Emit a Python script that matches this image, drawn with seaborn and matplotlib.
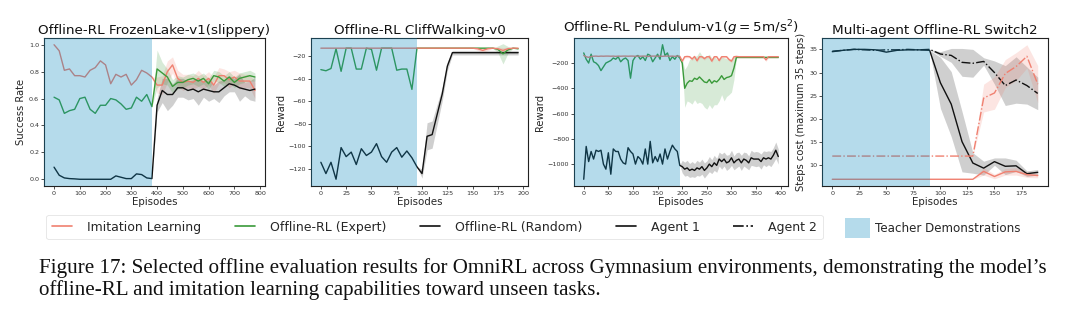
import matplotlib
matplotlib.use("Agg")
import matplotlib.pyplot as plt
import numpy as np
import pandas as pd
import seaborn as sns
from matplotlib.lines import Line2D
from matplotlib.patches import Patch

sns.set_theme(style="ticks")
plt.rcParams['font.family'] = ['DejaVu Sans']

# ---------------- data ----------------
# FrozenLake (slippery)
fl_x = list(range(0, 800, 20))
fl_il = [1.00, 0.955, 0.81, 0.82, 0.77, 0.77, 0.76, 0.81, 0.83, 0.88, 0.85, 0.71, 0.78, 0.76, 0.78, 0.70, 0.74, 0.81, 0.79, 0.76,
         0.70, 0.70, 0.80, 0.85, 0.75, 0.72, 0.73, 0.72, 0.75, 0.72, 0.75, 0.70, 0.77, 0.77, 0.74, 0.76, 0.73, 0.73, 0.73, 0.66]
fl_ex = [0.61, 0.59, 0.49, 0.51, 0.52, 0.60, 0.61, 0.52, 0.49, 0.55, 0.55, 0.60, 0.59, 0.56, 0.52, 0.53, 0.61, 0.58, 0.63, 0.54,
         0.82, 0.79, 0.76, 0.69, 0.72, 0.72, 0.74, 0.75, 0.73, 0.75, 0.71, 0.77, 0.76, 0.73, 0.76, 0.72, 0.75, 0.76, 0.77, 0.76]
fl_rd = [0.09, 0.03, 0.01, 0.005, 0.003, 0.0, 0.0, 0.0, 0.0, 0.0, 0.0, 0.0, 0.025, 0.015, 0.005, 0.005, 0.04, 0.035, 0.01, 0.005,
         0.55, 0.66, 0.63, 0.63, 0.68, 0.68, 0.66, 0.67, 0.65, 0.67, 0.66, 0.65, 0.65, 0.68, 0.71, 0.70, 0.68, 0.67, 0.66, 0.67]
fl_il_sd = [0, 0, 0, 0, 0, 0, 0, 0, 0, 0, 0, 0, 0, 0, 0, 0, 0, 0, 0, 0,
            0.06, 0.07, 0.08, 0.06, 0.06, 0.06, 0.05, 0.05, 0.06, 0.05, 0.05, 0.06, 0.06, 0.05, 0.06, 0.05, 0.06, 0.05, 0.05, 0.06]
fl_ex_sd = [0, 0, 0, 0, 0, 0, 0, 0, 0, 0, 0, 0, 0, 0, 0, 0, 0, 0, 0, 0,
            0.14, 0.08, 0.06, 0.05, 0.05, 0.04, 0.04, 0.04, 0.04, 0.04, 0.04, 0.04, 0.04, 0.04, 0.04, 0.04, 0.04, 0.04, 0.04, 0.03]
fl_rd_sd = [0, 0, 0, 0, 0, 0, 0, 0, 0, 0, 0, 0, 0, 0, 0, 0, 0, 0, 0, 0,
            0.05, 0.09, 0.12, 0.08, 0.07, 0.07, 0.07, 0.07, 0.10, 0.06, 0.08, 0.05, 0.08, 0.06, 0.06, 0.05, 0.10, 0.05, 0.07, 0.09]
fl_teacher_end = 380

# CliffWalking
cw_x = list(range(0, 200, 5))
cw_il = [-13, -13, -13, -13, -13, -13, -13, -13, -13, -13, -13, -13, -13, -13, -13, -13, -13, -13, -13, -13,
         -13, -13, -13, -13, -13, -13, -13, -13, -13, -13, -13, -13.5, -15, -13.5, -13, -13.5, -15, -13.5, -13, -13]
cw_ex = [-32, -33, -31, -13.5, -33.5, -13, -13, -31.5, -31.5, -13, -14, -32.5, -13, -13, -13, -32.5, -31.5, -31.5, -49.5, -13,
         -13, -13, -13, -13, -13, -13, -13, -13, -13, -13, -13, -13, -13, -13, -13, -14, -18, -14.5, -13, -13.5]
cw_rd = [-114, -124, -114, -129, -101, -109, -105, -116, -102, -108, -105, -97.5, -109, -114, -105, -101, -109.5, -104, -110, -118,
         -124, -91, -89.5, -71.5, -53.5, -29, -17, -17, -17, -17, -17, -17, -17, -17, -17, -17, -17, -17, -17, -17]
cw_il_sd = [0, 0, 0, 0, 0, 0, 0, 0, 0, 0, 0, 0, 0, 0, 0, 0, 0, 0, 0, 0,
            0, 0, 0, 0, 0, 0, 0, 0, 0, 0, 0, 1.5, 2, 1.5, 0, 1.5, 2.5, 1.5, 0, 0]
cw_ex_sd = [0, 0, 0, 0, 0, 0, 0, 0, 0, 0, 0, 0, 0, 0, 0, 0, 0, 0, 0, 0,
            0, 0, 0, 0, 0, 0, 0, 0, 0, 0, 0, 0, 0, 0, 0, 3, 9, 3, 0, 0.5]
cw_rd_sd = [0, 0, 0, 0, 0, 0, 0, 0, 0, 0, 0, 0, 0, 0, 0, 0, 0, 0, 0, 0,
            4, 12, 12, 9, 6, 4, 2, 2, 2, 2, 2, 2, 2, 2, 2, 2, 2, 2, 2, 2]
cw_teacher_end = 95

# Pendulum (g = 5)
pd_x = list(range(0, 400, 5))
pd_il = [-140, -150, -155, -148, -146, -145, -147, -145, -146, -145, -145, -146, -145, -147, -145, -146, -145, -145, -146, -145,
         -145, -147, -145, -146, -145, -145, -148, -146, -145, -145, -146, -145, -147, -145, -145, -146, -145, -147, -145, -146,
         -185, -150, -148, -150, -168, -148, -182, -150, -150, -165, -150, -150, -185, -150, -150, -180, -150, -150, -150, -172,
         -185, -150, -148, -150, -150, -150, -150, -150, -150, -150, -150, -150, -150, -150, -175, -150, -150, -150, -150, -150]
pd_ex = [-120, -170, -200, -130, -190, -200, -220, -260, -230, -200, -190, -180, -160, -170, -150, -190, -170, -160, -180, -320,
         -180, -150, -140, -170, -150, -180, -130, -140, -190, -160, -130, -170, -55, -140, -120, -180, -150, -170, -140, -160,
         -200, -400, -360, -340, -345, -320, -330, -310, -330, -350, -355, -330, -360, -340, -350, -330, -300, -330, -315, -310,
         -300, -240, -155, -155, -155, -155, -155, -155, -155, -155, -155, -155, -155, -155, -155, -155, -155, -155, -155, -155]
pd_rd = [-1120, -860, -980, -900, -960, -890, -900, -890, -1000, -1040, -910, -1080, -880, -900, -900, -960, -990, -1000, -870, -900,
         -920, -1000, -940, -960, -1000, -880, -1000, -820, -990, -940, -980, -920, -1000, -880, -960, -900, -850, -880, -900, -1010,
         -1020, -1040, -1030, -1050, -1040, -1050, -1030, -1040, -1020, -1050, -1030, -1000, -1020, -990, -1010, -960, -980, -960, -990, -980,
         -950, -990, -970, -960, -990, -960, -970, -990, -950, -960, -960, -960, -980, -950, -960, -950, -960, -930, -890, -940]
pd_il_sd = [0, 0, 0, 0, 0, 0, 0, 0, 0, 0, 0, 0, 0, 0, 0, 0, 0, 0, 0, 0,
            0, 0, 0, 0, 0, 0, 0, 0, 0, 0, 0, 0, 0, 0, 0, 0, 0, 0, 0, 0,
            12, 10, 10, 10, 12, 10, 12, 10, 10, 12, 10, 10, 12, 10, 10, 12, 10, 10, 10, 12,
            12, 10, 10, 10, 10, 10, 10, 10, 10, 10, 10, 10, 10, 10, 12, 10, 10, 10, 10, 10]
pd_ex_sd = [0, 0, 0, 0, 0, 0, 0, 0, 0, 0, 0, 0, 0, 0, 0, 0, 0, 0, 0, 0,
            0, 0, 0, 0, 0, 0, 0, 0, 0, 0, 0, 0, 0, 0, 0, 0, 0, 0, 0, 0,
            30, 150, 140, 170, 180, 170, 190, 200, 190, 200, 210, 200, 200, 190, 180, 170, 150, 170, 150, 140,
            130, 90, 5, 5, 5, 5, 5, 5, 5, 5, 5, 5, 5, 5, 5, 5, 5, 5, 5, 5]
pd_rd_sd = [0, 0, 0, 0, 0, 0, 0, 0, 0, 0, 0, 0, 0, 0, 0, 0, 0, 0, 0, 0,
            0, 0, 0, 0, 0, 0, 0, 0, 0, 0, 0, 0, 0, 0, 0, 0, 0, 0, 0, 0,
            50, 55, 60, 55, 60, 55, 60, 55, 60, 60, 55, 60, 55, 60, 55, 55, 60, 55, 60, 55,
            60, 55, 60, 55, 60, 55, 60, 55, 60, 55, 60, 55, 60, 55, 60, 55, 60, 60, 65, 60]
pd_teacher_end = 195

# Switch2 multi-agent
sw_x = list(range(0, 200, 10))
sw_a1 = [34.5, 34.8, 35.0, 35.0, 34.9, 34.4, 34.8, 34.9, 34.9, 34.8, 27.8, 23.2, 15.1, 10.5, 9.4, 10.8, 9.8, 9.9, 8.2, 8.5]
sw_a2 = [34.6, 34.8, 35.0, 34.9, 34.8, 34.9, 34.9, 35.0, 34.9, 35.0, 34.0, 33.7, 32.2, 32.0, 32.4, 30.0, 27.2, 28.4, 27.2, 25.5]
sw_il1 = [7, 7, 7, 7, 7, 7, 7, 7, 7, 7, 7, 7, 7, 7, 8.7, 7.6, 8.6, 8.7, 8.0, 7.8]
sw_il2 = [12, 12, 12, 12, 12, 12, 12, 12, 12, 12, 12, 12, 12, 12, 24.5, 25.6, 29.8, 31.3, 33.5, 27.5]
sw_a1_sd = [0, 0, 0, 0, 0, 0, 0, 0, 0, 0, 5.5, 7, 6.5, 2.2, 1.5, 0.8, 1.8, 1.2, 0.6, 0.6]
sw_a2_sd = [0, 0, 0, 0, 0, 0, 0, 0, 0, 0, 0.5, 1.5, 3, 3, 0.8, 2.5, 4.3, 5, 4, 3.5]
sw_il1_sd = [0, 0, 0, 0, 0, 0, 0, 0, 0, 0, 0, 0, 0, 0, 0.8, 0.5, 0.7, 0.8, 0.6, 0.5]
sw_il2_sd = [0, 0, 0, 0, 0, 0, 0, 0, 0, 0, 0, 0, 0, 0, 3, 3.5, 3, 3, 2.5, 4]
sw_teacher_end = 90

titles = ["Offline-RL FrozenLake-v1(slippery)", "Offline-RL CliffWalking-v0",
          r"Offline-RL Pendulum-v1($g = 5$m/s$^2$)", "Multi-agent Offline-RL Switch2"]
ylabels = ["Success Rate", "Reward", "Reward", "Steps cost (maximum 35 steps)"]
legend_labels = ["Imitation Learning", "Offline-RL (Expert)", "Offline-RL (Random)", "Agent 1", "Agent 2"]
teacher_label = "Teacher Demonstrations"
caption_l1 = ("Figure 17: Selected offline evaluation results for OmniRL across Gymnasium environments, "
              "demonstrating the model\u2019s")
caption_l2 = "offline-RL and imitation learning capabilities toward unseen tasks."

# ---------------- styling ----------------
C_IL = "#f08070"
C_EX = "#3a9a3a"
C_RD = "#111111"
C_TEACH = "#0c8ac0"
A_TEACH = 0.3

W, H = 1080, 321
fig = plt.figure(figsize=(W / 100, H / 100), dpi=100)

boxes = [(44, 265), (311, 528), (574, 788), (822, 1048)]
top, bottom = 38, 186
axes = []
for (l, r) in boxes:
    ax = fig.add_axes([l / W, 1 - bottom / H, (r - l) / W, (bottom - top) / H])
    axes.append(ax)


def series(ax, x, mean, sd, color, ls="-"):
    df = pd.DataFrame({"x": x, "y": mean})
    sns.lineplot(data=df, x="x", y="y", ax=ax, color=color, lw=1.0, linestyle=ls, zorder=2)
    m = np.array(mean, dtype=float)
    s = np.array(sd, dtype=float)
    ax.fill_between(x, m - s, m + s, color=color, alpha=0.2, lw=0, zorder=1)


series(axes[0], fl_x, fl_il, fl_il_sd, C_IL)
series(axes[0], fl_x, fl_rd, fl_rd_sd, C_RD)
series(axes[0], fl_x, fl_ex, fl_ex_sd, C_EX)

series(axes[1], cw_x, cw_rd, cw_rd_sd, C_RD)
series(axes[1], cw_x, cw_ex, cw_ex_sd, C_EX)
series(axes[1], cw_x, cw_il, cw_il_sd, C_IL)

series(axes[2], pd_x, pd_rd, pd_rd_sd, C_RD)
series(axes[2], pd_x, pd_ex, pd_ex_sd, C_EX)
series(axes[2], pd_x, pd_il, pd_il_sd, C_IL)

series(axes[3], sw_x, sw_a1, sw_a1_sd, C_RD, "-")
series(axes[3], sw_x, sw_a2, sw_a2_sd, C_RD, "-.")
series(axes[3], sw_x, sw_il1, sw_il1_sd, C_IL, "-")
series(axes[3], sw_x, sw_il2, sw_il2_sd, C_IL, "-.")

ylims = [None, (-135, -4), None, None]
ends = [fl_teacher_end, cw_teacher_end, pd_teacher_end, sw_teacher_end]
for i, ax in enumerate(axes):
    ax.set_title(titles[i], fontsize=9.7, pad=3, color="#111111")
    ax.set_xlabel("Episodes", fontsize=7.4, labelpad=1)
    ax.set_ylabel(ylabels[i], fontsize=7.2, labelpad=2)
    ax.tick_params(labelsize=4.6, length=2, width=0.6, pad=1.5, colors="#333333")
    if ylims[i] is not None:
        ax.set_ylim(*ylims[i])
    x0, x1 = ax.get_xlim()
    ax.axvspan(x0 - 1000, ends[i], color=C_TEACH, alpha=A_TEACH, lw=0, zorder=3)
    ax.set_xlim(x0, x1)
    for sp in ax.spines.values():
        sp.set_visible(True)
        sp.set_linewidth(0.8)
        sp.set_color("#222222")

axes[0].set_yticks([0.0, 0.2, 0.4, 0.6, 0.8, 1.0])
axes[3].set_yticks([10, 15, 20, 25, 30, 35])

handles = [Line2D([], [], color=C_IL, lw=1.2),
           Line2D([], [], color=C_EX, lw=1.2),
           Line2D([], [], color=C_RD, lw=1.2),
           Line2D([], [], color=C_RD, lw=1.2),
           Line2D([], [], color=C_RD, lw=1.2, ls="-.")]
leg = fig.legend(handles, legend_labels, loc="center", bbox_to_anchor=(434.5 / W, 1 - 227 / H), ncol=5,
                 fontsize=9.0, frameon=True, columnspacing=2.7, handlelength=1.6, handletextpad=1.2,
                 borderpad=0.45, borderaxespad=0, fancybox=True)
leg.get_frame().set_edgecolor("#dddddd")
leg.get_frame().set_linewidth(0.6)

leg2 = fig.legend([Patch(facecolor=C_TEACH, alpha=A_TEACH, lw=0)], [teacher_label], loc="center",
                  bbox_to_anchor=(933 / W, 1 - 228 / H), fontsize=8.6, frameon=False,
                  handlelength=2.1, handleheight=2.2, handletextpad=0.45, borderaxespad=0)

fig.text(39 / W, 1 - 268 / H, caption_l1, fontsize=15.1, family="Liberation Serif", va="center", ha="left",
         color="#111111")
fig.text(39 / W, 1 - 290 / H, caption_l2, fontsize=15.1, family="Liberation Serif", va="center", ha="left",
         color="#111111")

fig.savefig("out.png", dpi=100)
